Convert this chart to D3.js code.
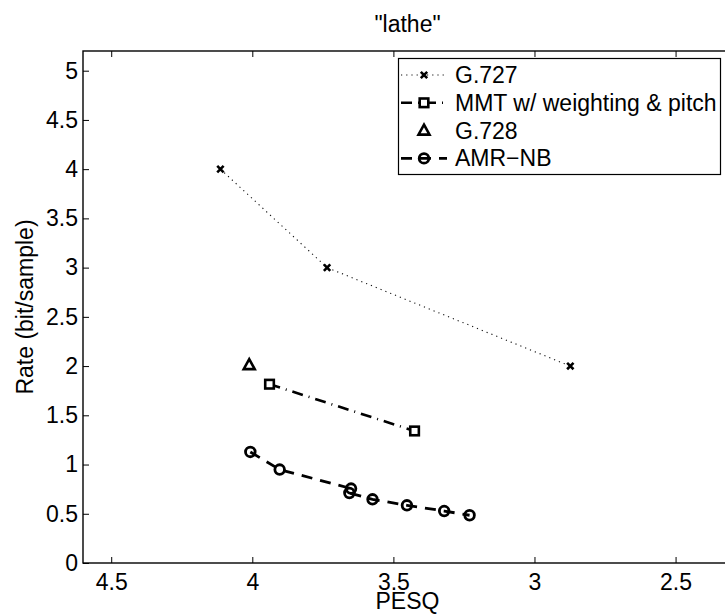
<!DOCTYPE html>
<html>
<head>
<meta charset="utf-8">
<script src="https://cdn.jsdelivr.net/npm/d3@7"></script>
<style>
  body { margin: 0; background: #fff; }
  svg { display: block; font-family: "Liberation Sans", Arial, Helvetica, sans-serif; }
</style>
</head>
<body>
<svg id="chart" width="725" height="615"></svg>
<script>
(function() {

  var width = 725,
      height = 615;

  // values
  var g727Pesq = [4.113, 3.735, 2.873],
      g727Rate = [4.0, 3.0, 2.0];

  var mmtPesq = [3.939, 3.425],
      mmtRate = [1.816, 1.341];

  var g728Pesq = [4.011],
      g728Rate = [2.01];

  var amrPesq = [4.007, 3.903, 3.650, 3.656, 3.574, 3.452, 3.320, 3.230],
      amrRate = [1.128, 0.949, 0.756, 0.711, 0.647, 0.586, 0.528, 0.485];

  var xTicks = [4.5, 4, 3.5, 3, 2.5],
      yTicks = [0, 0.5, 1, 1.5, 2, 2.5, 3, 3.5, 4, 4.5, 5];

  var legendNames = ["G.727", "MMT w/ weighting & pitch", "G.728", "AMR\u2212NB"];

  var fontSize = "23px";

  var margin = {left: 83, top: 51, bottom: 563, right: 732};

  var x = d3.scaleLinear()
      .domain([4.6, 2.3])
      .range([margin.left, margin.right]);

  var y = d3.scaleLinear()
      .domain([0, 5.2])
      .range([margin.bottom, margin.top]);

  var svg = d3.select("#chart");

  var zip = (a, b) => a.map((v, i) => [v, b[i]]);

  var series = [
    {name: legendNames[0], pts: zip(g727Pesq, g727Rate), marker: "x", line: {w: 1.1, dash: "1.2,4", color: "#111"}},
    {name: legendNames[1], pts: zip(mmtPesq, mmtRate), marker: "square", line: {w: 2.6, dash: "11,6,1,6", color: "#000"}},
    {name: legendNames[2], pts: zip(g728Pesq, g728Rate), marker: "triangle", line: null},
    {name: legendNames[3], pts: zip(amrPesq, amrRate), marker: "circle", line: {w: 2.8, dash: "11,8", color: "#000"}}
  ];

  // axes (ticks point inward, like matlab)
  var xAxis = d3.axisBottom(x)
      .tickValues(xTicks)
      .tickSize(-6)
      .tickPadding(11)
      .tickFormat(d3.format("~g"));

  var yAxis = d3.axisLeft(y)
      .tickValues(yTicks)
      .tickSize(-6)
      .tickPadding(5)
      .tickFormat(d3.format("~g"));

  var gx = svg.append("g")
      .attr("transform", "translate(0," + margin.bottom + ")")
      .call(xAxis);

  var gy = svg.append("g")
      .attr("transform", "translate(" + margin.left + ",0)")
      .call(yAxis);

  var gxTop = svg.append("g")
      .attr("transform", "translate(0," + margin.top + ")")
      .call(d3.axisTop(x).tickValues(xTicks).tickSize(-6).tickFormat(""));

  [gx, gy, gxTop].forEach(function(g) {
    g.select(".domain").remove();
    g.selectAll(".tick line").attr("stroke", "#000").attr("stroke-width", 1);
    g.selectAll(".tick text")
        .attr("fill", "#000")
        .style("font-size", fontSize);
  });

  svg.append("rect")
      .attr("x", margin.left)
      .attr("y", margin.top)
      .attr("width", margin.right - margin.left)
      .attr("height", margin.bottom - margin.top)
      .attr("fill", "none")
      .attr("stroke", "#000")
      .attr("stroke-width", 1.4);

  // lines
  var line = d3.line()
      .x(d => x(d[0]))
      .y(d => y(d[1]));

  series.filter(s => s.line).forEach(function(s) {
    svg.append("path")
        .attr("d", line(s.pts))
        .attr("fill", "none")
        .attr("stroke", s.line.color)
        .attr("stroke-width", s.line.w)
        .attr("stroke-dasharray", s.line.dash);
  });

  function drawMarker(g, type, cx, cy) {
    if (type == "x") {
      var r = 3.2;
      g.append("path")
          .attr("d", "M" + (cx - r) + "," + (cy - r) + "L" + (cx + r) + "," + (cy + r) +
                     "M" + (cx - r) + "," + (cy + r) + "L" + (cx + r) + "," + (cy - r))
          .attr("stroke", "#000")
          .attr("stroke-width", 2.6);
    } else if (type == "square") {
      g.append("rect")
          .attr("x", cx - 4.3)
          .attr("y", cy - 4.3)
          .attr("width", 8.6)
          .attr("height", 8.6)
          .attr("fill", "#fff")
          .attr("stroke", "#000")
          .attr("stroke-width", 2.6);
    } else if (type == "triangle") {
      g.append("path")
          .attr("d", "M" + cx + "," + (cy - 6) + "L" + (cx + 5.5) + "," + (cy + 4) + "L" + (cx - 5.5) + "," + (cy + 4) + "Z")
          .attr("fill", "#fff")
          .attr("stroke", "#000")
          .attr("stroke-width", 2.6)
          .attr("stroke-linejoin", "miter");
    } else {
      g.append("circle")
          .attr("cx", cx)
          .attr("cy", cy)
          .attr("r", 4.8)
          .attr("fill", "none")
          .attr("stroke", "#000")
          .attr("stroke-width", 2.8);
    }
  }

  series.forEach(function(s) {
    var g = svg.append("g");
    s.pts.forEach(p => drawMarker(g, s.marker, x(p[0]), y(p[1])));
  });

  // legend
  var legend = svg.append("g");

  legend.append("rect")
      .attr("x", 398.5)
      .attr("y", 58.5)
      .attr("width", 322)
      .attr("height", 116)
      .attr("fill", "#fff")
      .attr("stroke", "#000")
      .attr("stroke-width", 1.2);

  series.forEach(function(s, i) {
    var cy = 75 + i * 27.8;
    if (s.line) {
      legend.append("line")
          .attr("x1", 401)
          .attr("x2", 447)
          .attr("y1", cy)
          .attr("y2", cy)
          .attr("stroke", s.line.color)
          .attr("stroke-width", s.line.w)
          .attr("stroke-dasharray", s.line.dash);
    }
    drawMarker(legend, s.marker, 424, cy);
    legend.append("text")
        .attr("x", 455)
        .attr("y", cy + 8)
        .style("font-size", fontSize)
        .text(s.name);
  });

  // labels
  svg.append("text")
      .attr("x", (margin.left + margin.right) / 2)
      .attr("y", 32)
      .attr("text-anchor", "middle")
      .style("font-size", fontSize)
      .text("\"lathe\"");

  svg.append("text")
      .attr("x", (margin.left + margin.right) / 2)
      .attr("y", 609)
      .attr("text-anchor", "middle")
      .style("font-size", fontSize)
      .text("PESQ");

  svg.append("text")
      .attr("transform", "translate(33," + ((margin.top + margin.bottom) / 2) + ") rotate(-90)")
      .attr("text-anchor", "middle")
      .style("font-size", fontSize)
      .text("Rate (bit/sample)");

})();
</script>
</body>
</html>
